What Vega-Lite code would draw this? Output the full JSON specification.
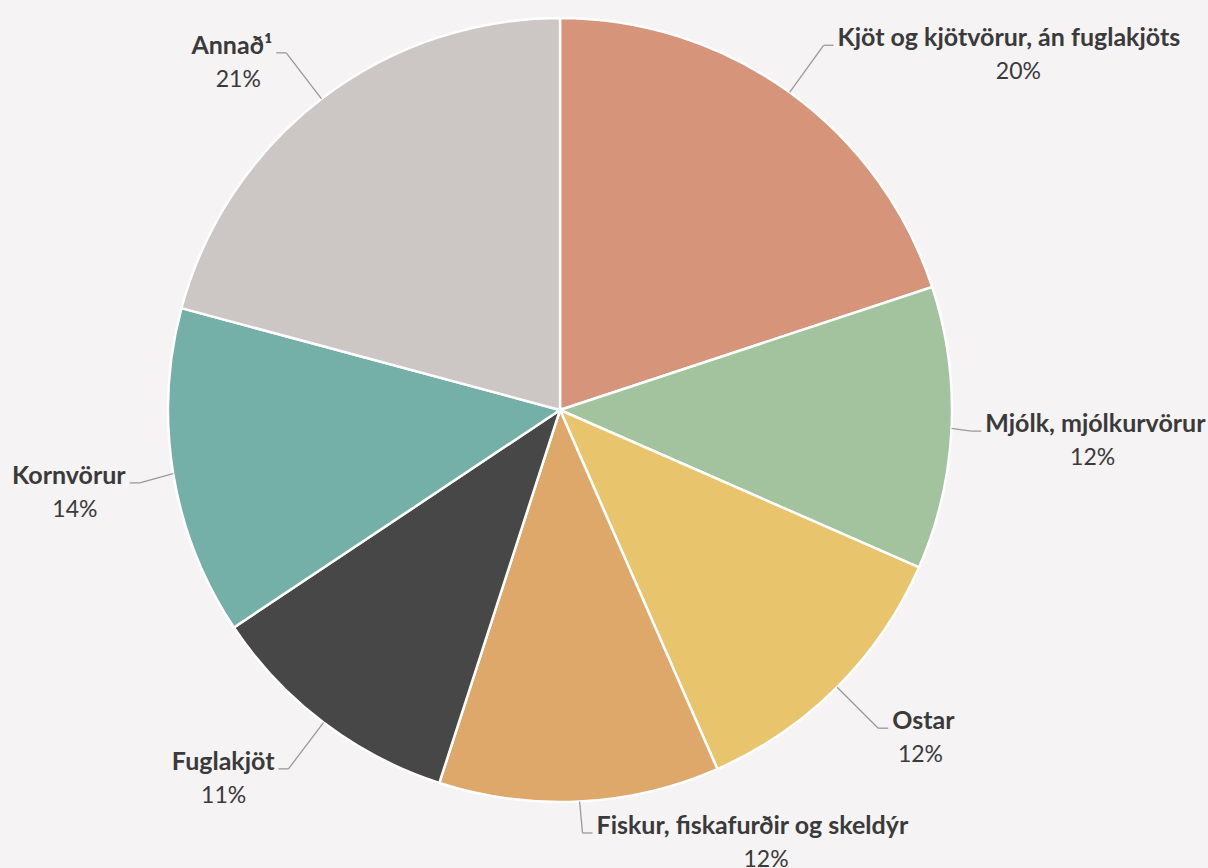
{
  "$schema": "https://vega.github.io/schema/vega-lite/v6.json",
  "width": 1208,
  "height": 868,
  "autosize": "none",
  "padding": 0,
  "background": "#f5f3f4",
  "config": {"view": {"stroke": null}, "text": {"font": "Lato", "color": "#3a3a3a"}},
  "data": {
    "values": [
      {"order": 1, "name": "Kjöt og kjötvörur, án fuglakjöts", "value": 20.0},
      {"order": 2, "name": "Mjólk, mjólkurvörur", "value": 11.7},
      {"order": 3, "name": "Ostar", "value": 11.9},
      {"order": 4, "name": "Fiskur, fiskafurðir og skeldýr", "value": 11.6},
      {"order": 5, "name": "Fuglakjöt", "value": 10.7},
      {"order": 6, "name": "Kornvörur", "value": 13.6},
      {"order": 7, "name": "Annað¹", "value": 20.9}
    ]
  },
  "transform": [
    {"joinaggregate": [{"op": "sum", "field": "value", "as": "total"}]},
    {"window": [{"op": "sum", "field": "value", "as": "cum"}], "sort": [{"field": "order"}], "frame": [null, 0]},
    {"calculate": "(datum.cum - datum.value / 2) / datum.total * 2 * PI", "as": "mid"},
    {"calculate": "sin(datum.mid) >= 0 ? 1 : -1", "as": "side"},
    {"calculate": "length(datum.name) * 11.3", "as": "w"},
    {"calculate": "392 * sin(datum.mid)", "as": "x0"},
    {"calculate": "392 * cos(datum.mid)", "as": "y0"},
    {"calculate": "450 * sin(datum.mid)", "as": "nx"},
    {"calculate": "min(max(450 * cos(datum.mid), -423), 377)", "as": "y1"},
    {"calculate": "datum.side > 0 ? min(datum.nx, 626 - datum.w) : max(datum.nx, -522 + datum.w)", "as": "x1"},
    {"calculate": "datum.x1 + datum.side * 10", "as": "x2"},
    {"calculate": "datum.x2 + datum.side * 4", "as": "tx"},
    {"calculate": "datum.tx + datum.side * datum.w / 2", "as": "px"},
    {"calculate": "format(datum.value, '.0f') + '%'", "as": "pct"}
  ],
  "encoding": {
    "x": {"type": "quantitative", "scale": {"domain": [-560, 648], "nice": false, "zero": false}, "axis": null},
    "y": {"type": "quantitative", "scale": {"domain": [-458, 410], "nice": false, "zero": false}, "axis": null}
  },
  "layer": [
    {
      "mark": {"type": "arc", "radius": 392, "stroke": "#ffffff", "strokeWidth": 2.5},
      "encoding": {
        "x": {"datum": 0, "type": "quantitative"},
        "y": {"datum": 0, "type": "quantitative"},
        "theta": {"field": "value", "type": "quantitative", "stack": true},
        "order": {"field": "order", "type": "quantitative"},
        "color": {
          "field": "name",
          "type": "nominal",
          "legend": null,
          "scale": {
            "domain": ["Kjöt og kjötvörur, án fuglakjöts", "Mjólk, mjólkurvörur", "Ostar", "Fiskur, fiskafurðir og skeldýr", "Fuglakjöt", "Kornvörur", "Annað¹"],
            "range": ["#d6957a", "#a3c39e", "#e8c46c", "#dea86a", "#474747", "#74b0a8", "#ccc7c5"]
          }
        }
      }
    },
    {
      "mark": {"type": "rule", "color": "#9a9a9a", "strokeWidth": 1.3},
      "encoding": {
        "x": {"field": "x0", "type": "quantitative"},
        "y": {"field": "y0", "type": "quantitative"},
        "x2": {"field": "x1"},
        "y2": {"field": "y1"}
      }
    },
    {
      "mark": {"type": "rule", "color": "#9a9a9a", "strokeWidth": 1.3},
      "encoding": {
        "x": {"field": "x1", "type": "quantitative"},
        "y": {"field": "y1", "type": "quantitative"},
        "x2": {"field": "x2"},
        "y2": {"field": "y1"}
      }
    },
    {
      "transform": [{"filter": "datum.side > 0"}],
      "mark": {"type": "text", "align": "left", "baseline": "alphabetic", "dy": 1, "fontSize": 25, "fontWeight": "bold"},
      "encoding": {
        "x": {"field": "tx", "type": "quantitative"},
        "y": {"field": "y1", "type": "quantitative"},
        "text": {"field": "name"}
      }
    },
    {
      "transform": [{"filter": "datum.side < 0"}],
      "mark": {"type": "text", "align": "right", "baseline": "alphabetic", "dy": 1, "fontSize": 25, "fontWeight": "bold"},
      "encoding": {
        "x": {"field": "tx", "type": "quantitative"},
        "y": {"field": "y1", "type": "quantitative"},
        "text": {"field": "name"}
      }
    },
    {
      "mark": {"type": "text", "align": "center", "baseline": "alphabetic", "dy": 34, "fontSize": 23, "fontWeight": "normal"},
      "encoding": {
        "x": {"field": "px", "type": "quantitative"},
        "y": {"field": "y1", "type": "quantitative"},
        "text": {"field": "pct"}
      }
    }
  ]
}
